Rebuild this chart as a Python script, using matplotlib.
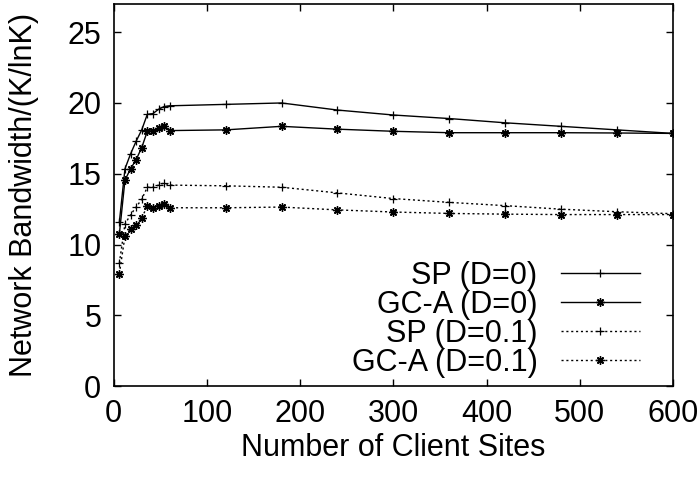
import numpy as np
import matplotlib.pyplot as plt

plt.rcParams['font.family'] = ['Liberation Sans', 'DejaVu Sans']

# number of client sites
sites = [6, 12, 18, 24, 30, 36, 42, 48, 54, 60,
         120, 180, 240, 300, 360, 420, 480, 540, 600]

# normalised bandwidth, one list per scheme
sp_d0 = [11.6, 15.35, 16.4, 17.3, 18.1, 19.2, 19.25, 19.55, 19.75, 19.8,
         19.9, 20.0, 19.5, 19.15, 18.9, 18.6, 18.35, 18.1, 17.85]
gca_d0 = [10.75, 14.55, 15.35, 16.0, 16.85, 18.0, 18.05, 18.2, 18.35, 18.05,
          18.1, 18.35, 18.15, 18.0, 17.9, 17.9, 17.9, 17.88, 17.85]
sp_d01 = [8.7, 11.45, 12.1, 12.65, 13.2, 14.05, 14.05, 14.2, 14.35, 14.2,
          14.15, 14.05, 13.65, 13.25, 12.98, 12.75, 12.5, 12.32, 12.18]
gca_d01 = [7.95, 10.6, 11.1, 11.35, 11.9, 12.7, 12.6, 12.75, 12.9, 12.6,
           12.6, 12.65, 12.45, 12.3, 12.2, 12.15, 12.12, 12.12, 12.12]

labels = ['SP (D=0)', 'GC-A (D=0)', 'SP (D=0.1)', 'GC-A (D=0.1)']

fig = plt.figure(figsize=(6.98, 4.78), dpi=100)
ax = fig.add_axes([0.163, 0.192, 0.801, 0.800])

star = (8, 2, 0)
dots = (0, (1.5, 2.0))

ax.plot(sites, sp_d0, color='black', lw=1.0, marker='+', ms=6, mew=0.9, label=labels[0])
ax.plot(sites, gca_d0, color='black', lw=1.0, marker=star, ms=6, mew=1.0, label=labels[1])
ax.plot(sites, sp_d01, color='black', lw=1.0, ls=dots, marker='+', ms=6, mew=0.9, label=labels[2])
ax.plot(sites, gca_d01, color='black', lw=1.0, ls=dots, marker=star, ms=6, mew=1.0, label=labels[3])

ax.set_xlim(0, 600)
ax.set_ylim(0, 27)
ax.set_xticks(np.arange(0, 601, 100))
ax.set_yticks(np.arange(0, 26, 5))
ax.tick_params(direction='in', length=5, width=1, top=True, right=True,
               labelsize=22, pad=9)
for s in ax.spines.values():
    s.set_linewidth(1.2)

ax.set_xlabel('Number of Client Sites', fontsize=22, labelpad=3)
ax.set_ylabel('Network Bandwidth/(K/lnK)', fontsize=22, labelpad=20)

ax.legend(loc='lower right', bbox_to_anchor=(0.963, -0.01), frameon=False,
          markerfirst=False, fontsize=22, handlelength=2.6, handletextpad=0.75,
          labelspacing=-0.03, borderaxespad=0.0)

fig.savefig('out.png', dpi=100)
